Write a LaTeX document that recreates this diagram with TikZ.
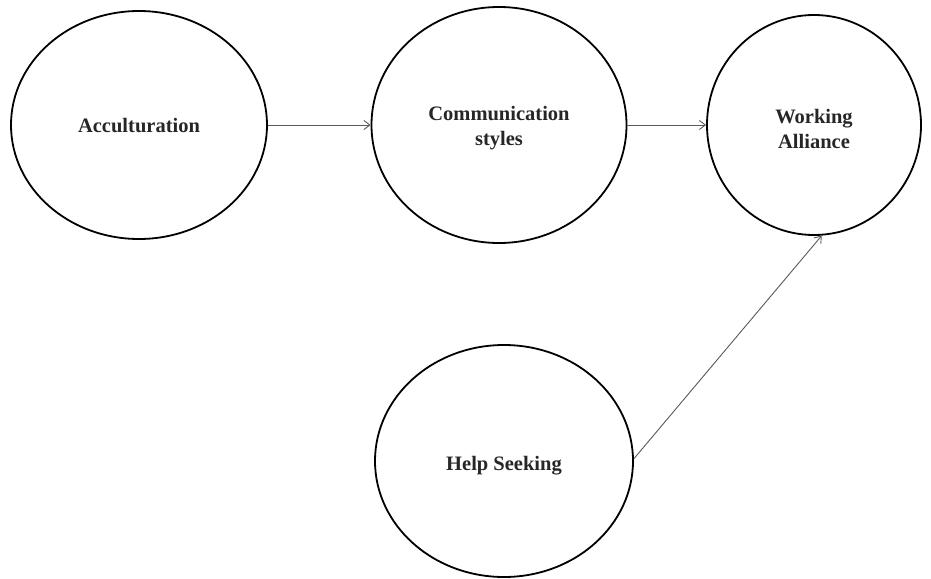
\documentclass[tikz,border=0pt]{standalone}
\usepackage{fontspec}
\setmainfont{Liberation Serif}
\usetikzlibrary{shapes.geometric,arrows.meta}
\begin{document}
\begin{tikzpicture}[x=1pt,y=-1pt,
  oval/.style={draw=black,line width=1.8pt,ellipse,inner sep=0pt},
  lab/.style={align=center,inner sep=0pt,font=\fontsize{20.5}{25}\selectfont\bfseries,text=black!85},
  link/.style={draw=black!65,line width=0.9pt,-{Straight Barb[length=6pt,width=9pt,line width=0.9pt]}}]
\useasboundingbox (0,0) rectangle (931,578);
\node[oval,minimum width=256pt,minimum height=228pt,
  label={[lab,name=acct,yshift=-1pt]center:Acculturation}] (acc) at (139,125) {};
\node[oval,minimum width=255pt,minimum height=236pt,
  label={[lab,name=commt,yshift=-3.5pt]center:Communication\\styles}] (comm) at (499,125) {};
\node[oval,minimum width=214pt,minimum height=220pt,
  label={[lab,name=workt,yshift=-3.5pt]center:Working\\Alliance}] (work) at (814,125) {};
\node[oval,minimum width=258pt,minimum height=232pt,
  label={[lab,name=helpt,yshift=-5pt]center:Help Seeking}] (help) at (504,461) {};
\draw[link] (acc) -- (comm);
\draw[link] (comm) -- (work);
\draw[link] (help.1) -- (work.-86);
\end{tikzpicture}
\end{document}
